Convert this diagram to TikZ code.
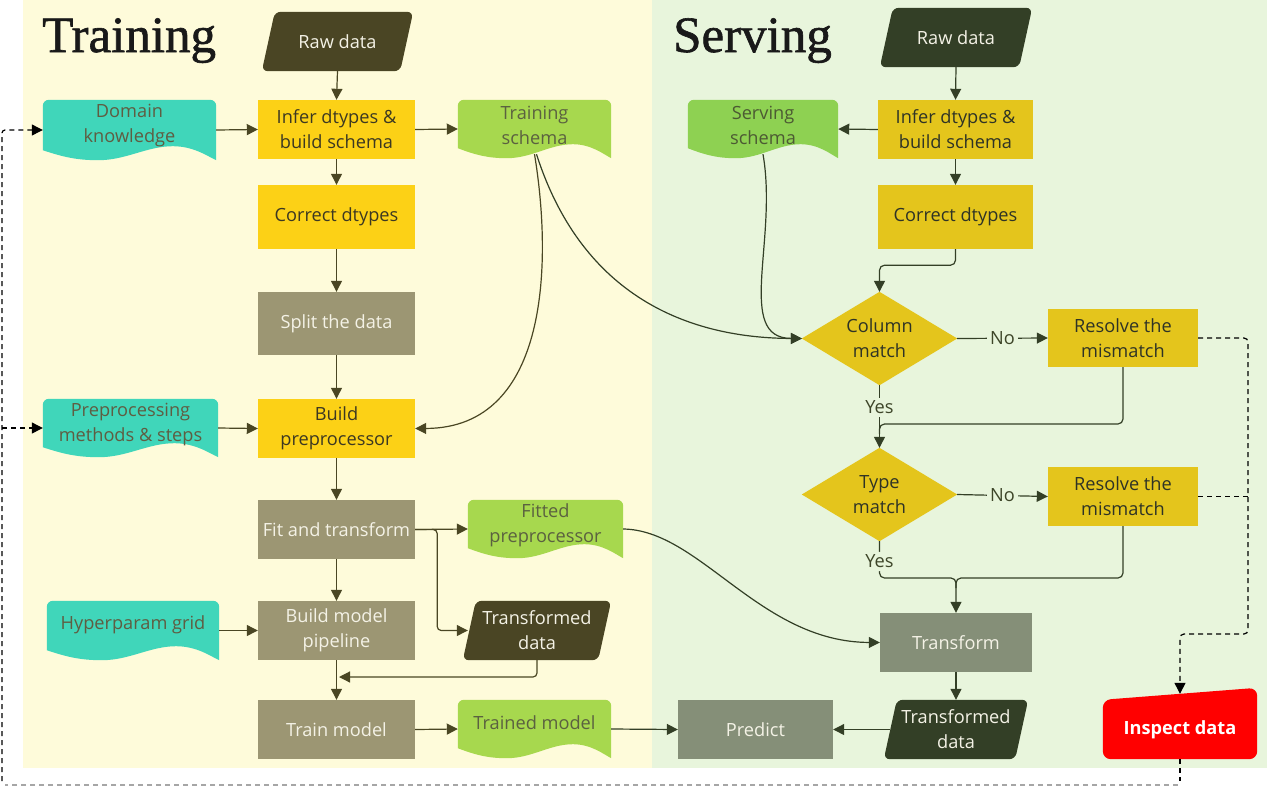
\documentclass[tikz,border=0pt]{standalone}
\usepackage{fontspec}
\setmainfont{Open Sans}
\newfontfamily\titlefont[FakeBold=1.2]{Liberation Serif}
\usetikzlibrary{arrows.meta,calc}
\pgfdeclarelayer{bgl}\pgfdeclarelayer{shp}\pgfsetlayers{bgl,shp,main}
\definecolor{TrainBg}{HTML}{FEFBDA}
\definecolor{ServBg}{HTML}{E8F5DC}
\definecolor{YelA}{HTML}{FCD116}
\definecolor{YelB}{HTML}{E4C51C}
\definecolor{Olive}{HTML}{9C9673}
\definecolor{GrayGreen}{HTML}{858F78}
\definecolor{Teal}{HTML}{40D6BA}
\definecolor{GreenA}{HTML}{A7D84E}
\definecolor{GreenB}{HTML}{8ED152}
\definecolor{DarkOl}{HTML}{4A4524}
\definecolor{DarkGr}{HTML}{333F26}
\definecolor{ArrA}{HTML}{4A4623}
\definecolor{ArrB}{HTML}{333F26}
\definecolor{YTxt}{HTML}{3C3822}
\definecolor{YTxtB}{HTML}{2E3326}
\definecolor{LtTxt}{HTML}{F4F2E6}
\definecolor{TealTxt}{HTML}{5F5D42}
\definecolor{GreenTxtA}{HTML}{5B6140}
\definecolor{GreenTxtB}{HTML}{4C5A33}
\definecolor{LblCol}{HTML}{3D4528}
\definecolor{InspRed}{HTML}{FF0000}
\newcommand\nf{\fontsize{18.2}{25}\selectfont}
\newcommand\docfill[2]{%
  \fill[#2] ($(#1.south west)+(0,-10)$) -- ($(#1.north west)+(0,6)$)
    arc[start angle=180,end angle=90,radius=6pt]
    -- ($(#1.north east)+(-6,0)$)
    arc[start angle=90,end angle=0,radius=6pt]
    -- (#1.south east)
    .. controls ($(#1.south west)!0.95!(#1.south east)+(0,-4)$) and ($(#1.south west)!0.87!(#1.south east)+(0,-14)$) .. ($(#1.south west)!0.75!(#1.south east)+(0,-14)$)
    .. controls ($(#1.south west)!0.6!(#1.south east)+(0,-14)$) and ($(#1.south west)!0.48!(#1.south east)$) .. ($(#1.south west)!0.32!(#1.south east)$)
    .. controls ($(#1.south west)!0.2!(#1.south east)$) and ($(#1.south west)!0.12!(#1.south east)+(0,-3)$) .. cycle;}
\newcommand\parafill[3]{%
  \fill[#2, rounded corners=6pt] (#1.south west) -- ($(#1.north west)+(#3,0)$) -- (#1.north east) -- ($(#1.south east)+(-#3,0)$) -- cycle;}
\newcommand\diafill[2]{%
  \fill[#2] (#1.west) -- (#1.north) -- (#1.east) -- (#1.south) -- cycle;}
\begin{document}
\begin{tikzpicture}[x=1pt,y=-1pt,
  base/.style={inner sep=0pt, align=center, font=\nf},
  box/.style={base, minimum width=157pt, minimum height=59pt},
  sbox/.style={base, minimum width=155pt, minimum height=59pt},
  blank/.style={inner sep=0pt, minimum width=#1},
  dtext/.style={base},
  lbl/.style={fill=ServBg, inner sep=3pt, font=\nf, text=LblCol},
  aA/.style={draw=ArrA, line width=1.2pt, -{Triangle[length=11pt,width=11pt]}},
  aB/.style={draw=ArrB, line width=1.2pt, -{Triangle[length=11pt,width=11pt]}},
  lA/.style={draw=ArrA, line width=1.2pt},
  lB/.style={draw=ArrB, line width=1.2pt},
  dsh/.style={draw=black, line width=1.2pt, dash pattern=on 5pt off 4pt},
  dshg/.style={draw=black!35, line width=1.2pt, dash pattern=on 5pt off 4pt},
  ttl/.style={inner sep=0pt, anchor=base west, font=\titlefont\fontsize{51}{51}\selectfont, text=black!90}
]
\useasboundingbox (0,0) rectangle (1267,788);
\begin{pgfonlayer}{bgl}
  \fill[white] (0,0) rectangle (1267,788);
  \fill[TrainBg] (23,0) rectangle (652,768);
  \fill[ServBg] (652,0) rectangle (1267,768);
\end{pgfonlayer}

% titles
\node[ttl] (t1) at (42,52) {Training};
\node[ttl] (t2) at (673,52) {Serving};

% ---------- Training column ----------
\node[base, minimum width=151pt, minimum height=59pt, text=LtTxt] (rd1) at (337.5,41.5) {Raw data};
\node[box, fill=YelA, text=YTxt] (inf1) at (336.5,129.5) {Infer dtypes \&\\build schema};
\node[box, fill=YelA, text=YTxt, minimum height=64pt] (cd1) at (336.5,217) {Correct dtypes};
\node[box, fill=Olive, text=LtTxt, minimum height=63pt] (sp) at (336.5,323.5) {Split the data};
\node[box, fill=YelA, text=YTxt] (bp) at (336.5,428.5) {Build\\preprocessor};
\node[box, fill=Olive, text=LtTxt] (ft) at (336.5,529.5) {Fit and transform};
\node[box, fill=Olive, text=LtTxt] (bm) at (336.5,630.5) {Build model\\pipeline};
\node[box, fill=Olive, text=LtTxt] (trm) at (336.5,729.5) {Train model};

\node[blank=173pt, minimum height=60pt] (dk) at (129.5,130) {};
\node[dtext, text=TealTxt] (dkt) at (129.5,126) {Domain\\knowledge};
\node[blank=175pt, minimum height=58pt] (pm) at (130.5,428) {};
\node[dtext, text=TealTxt] (pmt) at (130.5,424) {Preprocessing\\methods \& steps};
\node[blank=172pt, minimum height=59pt] (hg) at (133,630.5) {};
\node[dtext, text=TealTxt] (hgt) at (133,625) {Hyperparam grid};

\node[blank=153pt, minimum height=58pt] (ts) at (534.5,129) {};
\node[dtext, text=GreenTxtA] (tst) at (534.5,125.5) {Training\\schema};
\node[blank=155pt, minimum height=58pt] (fp) at (545.5,529) {};
\node[dtext, text=GreenTxtA] (fpt) at (545.5,525) {Fitted\\preprocessor};
\node[blank=153pt, minimum height=58pt] (tdm) at (534.5,729) {};
\node[dtext, text=GreenTxtA] (tdmt) at (534.5,723) {Trained model};
\node[base, minimum width=148pt, minimum height=59pt, text=LtTxt] (td1) at (537,630.5) {Transformed\\data};

% ---------- Serving column ----------
\node[base, minimum width=152pt, minimum height=59pt, text=LtTxt] (rd2) at (956,37.5) {Raw data};
\node[sbox, fill=YelB, text=YTxtB] (inf2) at (955.5,129.5) {Infer dtypes \&\\build schema};
\node[sbox, fill=YelB, text=YTxtB, minimum height=64pt] (cd2) at (955.5,217) {Correct dtypes};
\node[blank=150pt, minimum height=58pt] (ss) at (763,129) {};
\node[dtext, text=GreenTxtB] (sst) at (763,125.5) {Serving\\schema};
\node[base, minimum width=155pt, minimum height=93pt, text=YTxtB] (cm) at (879.5,338.5) {Column\\match};
\node[base, minimum width=150pt, minimum height=58pt, fill=YelB, text=YTxtB] (r1) at (1123,338) {Resolve the\\mismatch};
\node[base, minimum width=155pt, minimum height=93pt, text=YTxtB] (tym) at (879.5,494.5) {Type\\match};
\node[base, minimum width=150pt, minimum height=59pt, fill=YelB, text=YTxtB] (r2) at (1123,496.5) {Resolve the\\mismatch};
\node[base, minimum width=152pt, minimum height=59pt, fill=GrayGreen, text=LtTxt] (trf) at (956,642.5) {Transform};
\node[base, minimum width=144pt, minimum height=59pt, text=LtTxt] (td2) at (956,729.5) {Transformed\\data};
\node[base, minimum width=155pt, minimum height=59pt, fill=GrayGreen, text=LtTxt] (pr) at (755.5,729.5) {Predict};
\node[base, minimum width=154pt, minimum height=59pt, text=white, font=\nf\bfseries] (insp) at (1180,729.5) {Inspect data};

% ---------- shapes ----------
\begin{pgfonlayer}{shp}
  \parafill{rd1}{DarkOl}{13}
  \parafill{td1}{DarkOl}{13}
  \parafill{rd2}{DarkGr}{13}
  \parafill{td2}{DarkGr}{13}
  \docfill{dk}{Teal}
  \docfill{pm}{Teal}
  \docfill{hg}{Teal}
  \docfill{ts}{GreenA}
  \docfill{fp}{GreenA}
  \docfill{tdm}{GreenA}
  \docfill{ss}{GreenB}
  \diafill{cm}{YelB}
  \diafill{tym}{YelB}
  \fill[InspRed, rounded corners=8pt] (insp.south west) -- (insp.north west) -- ($(insp.north east)+(0,-12)$) -- (insp.south east) -- cycle;
\end{pgfonlayer}

% ---------- coordinates ----------
\coordinate (j2) at (339,677);
\coordinate (j1) at (879.5,424);
\coordinate (j3) at (879.5,578);
\coordinate (j4) at (956,578);
\coordinate (j6) at (1248,634);
\coordinate (fbR) at (1180,781);
\coordinate (fbL) at (2,781);

% ---------- training connectors ----------
\draw[aA] (rd1.south) -- (inf1.north);
\draw[aA] (inf1.south) -- (cd1.north);
\draw[aA] (cd1.south) -- (sp.north);
\draw[aA] (sp.south) -- (bp.north);
\draw[aA] (bp.south) -- (ft.north);
\draw[aA] (ft.south) -- (bm.north);
\draw[aA] (bm.south) -- (trm.north);
\draw[aA] (dk.east) -- (inf1.west);
\draw[aA] (pm.east) -- (bp.west);
\draw[aA] (hg.east) -- (bm.west);
\draw[aA] (inf1.east) -- (ts.west);
\draw[aA] (ft.east) -- (fp.west);
\draw[aA, rounded corners=4pt] (ft.east) -- ++(22,0) |- ($(td1.west)+(5,0)$);
\draw[aA, rounded corners=4pt] (td1.south) |- (j2);
\draw[aA] (trm.east) -- (tdm.west);
\draw[aA] ($(ts.south)+(0,-4)$) .. controls (552,260) and (550,428) .. (bp.east);
\draw[aB] ($(ts.south)+(2,-4)$) .. controls (580,290) and (680,338) .. (cm.west);
\draw[aB] (tdm.east) -- (pr.west);
\draw[aB] (fp.east) .. controls (700,530) and (760,642) .. (trf.west);

% ---------- serving connectors ----------
\draw[aB] (rd2.south) -- (inf2.north);
\draw[aB] (inf2.west) -- (ss.east);
\draw[aB] (inf2.south) -- (cd2.north);
\draw[aB, rounded corners=5pt] (cd2.south) -- ++(0,16) -| (cm.north);
\draw[aB] ($(ss.south)+(0,-4)$) .. controls (778,240) and (735,338) .. (cm.west);
\draw[aB] (cm.east) -- node[lbl] (no1) {No} (r1.west);
\draw[aB] (tym.east) -- node[lbl] (no2) {No} (r2.west);
\draw[aB] (cm.south) -- node[lbl, pos=0.35] (yes1) {Yes} (tym.north);
\draw[lB, rounded corners=5pt] (r1.south) |- (j1) -- ++(0,10);
\draw[aB, rounded corners=5pt] (tym.south) -- node[lbl, pos=0.55] (yes2) {Yes} (j3) -| (trf.north);
\draw[lB, rounded corners=5pt] (r2.south) |- (j4) -- ++(0,10);
\draw[aB] (trf.south) -- (td2.north);
\draw[aB] ($(td2.west)+(6,0)$) -- (pr.east);

% ---------- dashed feedback ----------
\draw[dsh, rounded corners=4pt, -{Triangle[length=11pt,width=11pt]}] (r1.east) -| (j6) -| ($(insp.north)+(0,-6)$);
\draw[dsh] (r2.east) -- (r2.east -| j6);
\draw[dsh] (insp.south) -- (fbR);
\draw[dshg] (1178,785) -- (5,785);
\draw[dsh, rounded corners=3pt, -{Triangle[length=11pt,width=11pt]}] (fbL) |- (dk.west);
\draw[dsh, -{Triangle[length=11pt,width=11pt]}] (pm.west -| fbL) -- (pm.west);
\end{tikzpicture}
\end{document}
